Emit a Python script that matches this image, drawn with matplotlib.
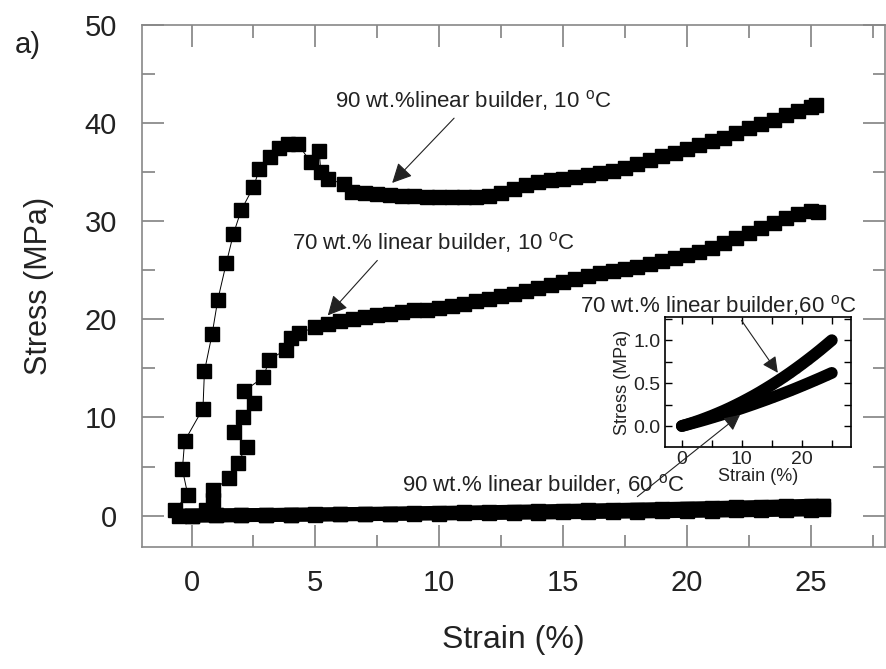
import matplotlib
matplotlib.use('Agg')
import matplotlib.pyplot as plt
from matplotlib.ticker import MultipleLocator

plt.rcParams['font.family'] = ['Liberation Sans', 'DejaVu Sans']
plt.rcParams['mathtext.default'] = 'regular'

# 90 wt.% linear builder, 10 C
strain_90_10 = [-0.68, -0.15, -0.37, -0.28, 0.46, 0.52, 0.83, 1.06, 1.40, 1.69, 2.0,
                2.5, 2.74, 3.17, 3.54, 3.88, 4.28, 4.82, 5.15, 5.22, 5.49, 6.16, 6.49,
                7.0, 7.5, 8.0, 8.5, 9.0, 9.5, 10.0, 10.5, 11.0, 11.5, 12.0, 12.5, 13.0,
                13.5, 14.0, 14.5, 15.0, 15.5, 16.0, 16.5, 17.0, 17.5, 18.0, 18.5, 19.0,
                19.5, 20.0, 20.5, 21.0, 21.5, 22.0, 22.5, 23.0, 23.5, 24.0, 24.5, 25.0, 25.2]
stress_90_10 = [0.6, 2.1, 4.7, 7.6, 10.9, 14.7, 18.5, 22.0, 25.7, 28.7, 31.1,
                33.5, 35.3, 36.5, 37.5, 37.9, 37.9, 36.0, 37.2, 35.0, 34.3, 33.8, 33.0,
                32.9, 32.8, 32.7, 32.6, 32.6, 32.5, 32.5, 32.5, 32.5, 32.5, 32.6, 32.9, 33.3,
                33.7, 34.0, 34.2, 34.3, 34.5, 34.7, 34.9, 35.1, 35.4, 35.8, 36.2, 36.6,
                37.0, 37.4, 37.8, 38.2, 38.5, 39.0, 39.5, 39.9, 40.3, 40.8, 41.2, 41.6, 41.8]

# 70 wt.% linear builder, 10 C
strain_70_10 = [0.6, 0.85, 0.86, 1.53, 1.86, 2.23, 1.73, 2.09, 2.54, 2.13, 2.9, 3.14,
                3.81, 4.01, 4.35, 5.0, 5.5, 6.0, 6.5, 7.0, 7.5, 8.0, 8.5, 9.0, 9.5, 10.0,
                10.5, 11.0, 11.5, 12.0, 12.5, 13.0, 13.5, 14.0, 14.5, 15.0, 15.5, 16.0,
                16.5, 17.0, 17.5, 18.0, 18.5, 19.0, 19.5, 20.0, 20.5, 21.0, 21.5, 22.0,
                22.5, 23.0, 23.5, 24.0, 24.5, 25.0, 25.3]
stress_70_10 = [0.6, 1.6, 2.6, 3.8, 5.4, 7.0, 8.5, 10.0, 11.5, 12.7, 14.1, 15.9,
                16.9, 18.1, 18.6, 19.2, 19.5, 19.8, 20.0, 20.2, 20.4, 20.5, 20.7, 20.9, 21.0, 21.2,
                21.4, 21.6, 21.9, 22.1, 22.4, 22.6, 22.9, 23.2, 23.5, 23.8, 24.1, 24.4,
                24.7, 24.9, 25.1, 25.3, 25.6, 25.9, 26.2, 26.6, 26.9, 27.3, 27.8, 28.3,
                28.8, 29.3, 29.8, 30.3, 30.7, 31.0, 30.9]

# 60 C curves (main plot band and inset)
strain_60 = [-0.5, 0, 1, 2, 3, 4, 5, 6, 7, 8, 9, 10, 11, 12, 13, 14, 15, 16, 17, 18, 19,
             20, 21, 22, 23, 24, 25, 25.5]
stress_70_60 = [0.0, 0.0, 0.021, 0.043, 0.067, 0.093, 0.12, 0.149, 0.179, 0.211, 0.245,
                0.28, 0.317, 0.355, 0.395, 0.437, 0.48, 0.525, 0.571, 0.619, 0.669,
                0.72, 0.773, 0.827, 0.883, 0.941, 1.0, 1.0]
stress_90_60 = [0.0, 0.0, 0.018, 0.037, 0.056, 0.076, 0.097, 0.118, 0.139, 0.161, 0.184,
                0.207, 0.231, 0.255, 0.28, 0.305, 0.331, 0.357, 0.384, 0.411, 0.439,
                0.468, 0.497, 0.527, 0.557, 0.588, 0.619, 0.62]

fig = plt.figure(figsize=(8.86, 6.69), dpi=100)
ax = fig.add_axes([0.1603, 0.1824, 0.8386, 0.7803])

ax.plot(strain_90_10, stress_90_10, 's-', color='black', ms=9.5, lw=0.7)
ax.plot(strain_70_10, stress_70_10, 's-', color='black', ms=9.5, lw=0.7)
ax.plot(strain_60[1:], stress_70_60[1:], 's-', color='black', ms=10, lw=10)
ax.plot(strain_60, stress_90_60, 's-', color='black', ms=10, lw=10)

ax.set_xlim(-2, 28)
ax.set_ylim(-3.2, 50)
ax.xaxis.set_major_locator(MultipleLocator(5))
ax.xaxis.set_minor_locator(MultipleLocator(2.5))
ax.yaxis.set_major_locator(MultipleLocator(10))
ax.yaxis.set_minor_locator(MultipleLocator(5))
ax.tick_params(which='both', direction='in', top=True, right=True, color='#777777', width=1.1)
ax.tick_params(which='major', length=16, labelsize=21, labelcolor='#222222')
ax.tick_params(which='minor', length=9)
ax.tick_params(axis='x', which='major', pad=16)
ax.tick_params(axis='y', which='major', pad=18)
for s in ax.spines.values():
    s.set_color('#888888')
    s.set_linewidth(1.2)
ax.set_xlabel('Strain (%)', fontsize=23, color='#222222', labelpad=20)
ax.set_ylabel('Stress (MPa)', fontsize=22, color='#222222', labelpad=22)

fig.text(0.017, 0.933, 'a)', fontsize=21, color='#222222', va='center')

arrow = dict(arrowstyle='-|>', color='#222222', lw=0.8, mutation_scale=30, shrinkA=0, shrinkB=0)

ax.text(5.8, 42.3, r'90 wt.%linear builder, 10 $^{o}$C', fontsize=16, va='center', color='#222222')
ax.annotate('', xy=(8.1, 33.9), xytext=(10.6, 40.5), arrowprops=arrow)

ax.text(4.06, 27.8, r'70 wt.% linear builder, 10 $^{o}$C', fontsize=16, va='center', color='#222222')
ax.annotate('', xy=(5.5, 20.4), xytext=(7.5, 26.0), arrowprops=arrow)

ax.text(8.5, 3.15, r'90 wt.% linear builder, 60 $^{o}$C', fontsize=16, va='center', color='#222222')
ax.text(15.7, 21.4, r'70 wt.% linear builder,60 $^{o}$C', fontsize=16, va='center', color='#222222')

# inset
axin = fig.add_axes([0.7506, 0.3318, 0.2099, 0.1943])
axin.plot(strain_60[1:-1], stress_70_60[1:-1], 's-', color='black', ms=5, lw=8.5,
          solid_capstyle='round')
axin.plot(strain_60[1:-1], stress_90_60[1:-1], 's-', color='black', ms=5, lw=8.5,
          solid_capstyle='round')
axin.set_xlim(-2.8, 28.2)
axin.set_ylim(-0.245, 1.27)
axin.xaxis.set_major_locator(MultipleLocator(10))
axin.xaxis.set_minor_locator(MultipleLocator(5))
axin.yaxis.set_major_locator(MultipleLocator(0.5))
axin.yaxis.set_minor_locator(MultipleLocator(0.25))
axin.tick_params(which='both', direction='in', top=True, right=True, width=1)
axin.tick_params(which='major', length=5, labelsize=14, pad=3, labelcolor='#222222')
axin.tick_params(which='minor', length=5)
for s in axin.spines.values():
    s.set_linewidth(1.2)
axin.set_xlabel('Strain (%)', fontsize=13, labelpad=0, color='#222222')
axin.set_ylabel('Stress (MPa)', fontsize=13, labelpad=2, color='#222222')

arrow_in = dict(arrowstyle='-|>', color='#222222', lw=0.8, mutation_scale=24, shrinkA=0, shrinkB=0)
axin.annotate('', xy=(16.0, 0.62), xytext=(9.95, 1.23), arrowprops=arrow_in)
axin.annotate('', xy=(9.7, 0.13), xytext=(18.0, 1.93), textcoords=ax.transData,
              arrowprops=arrow_in)

fig.savefig('out.png', dpi=100)
